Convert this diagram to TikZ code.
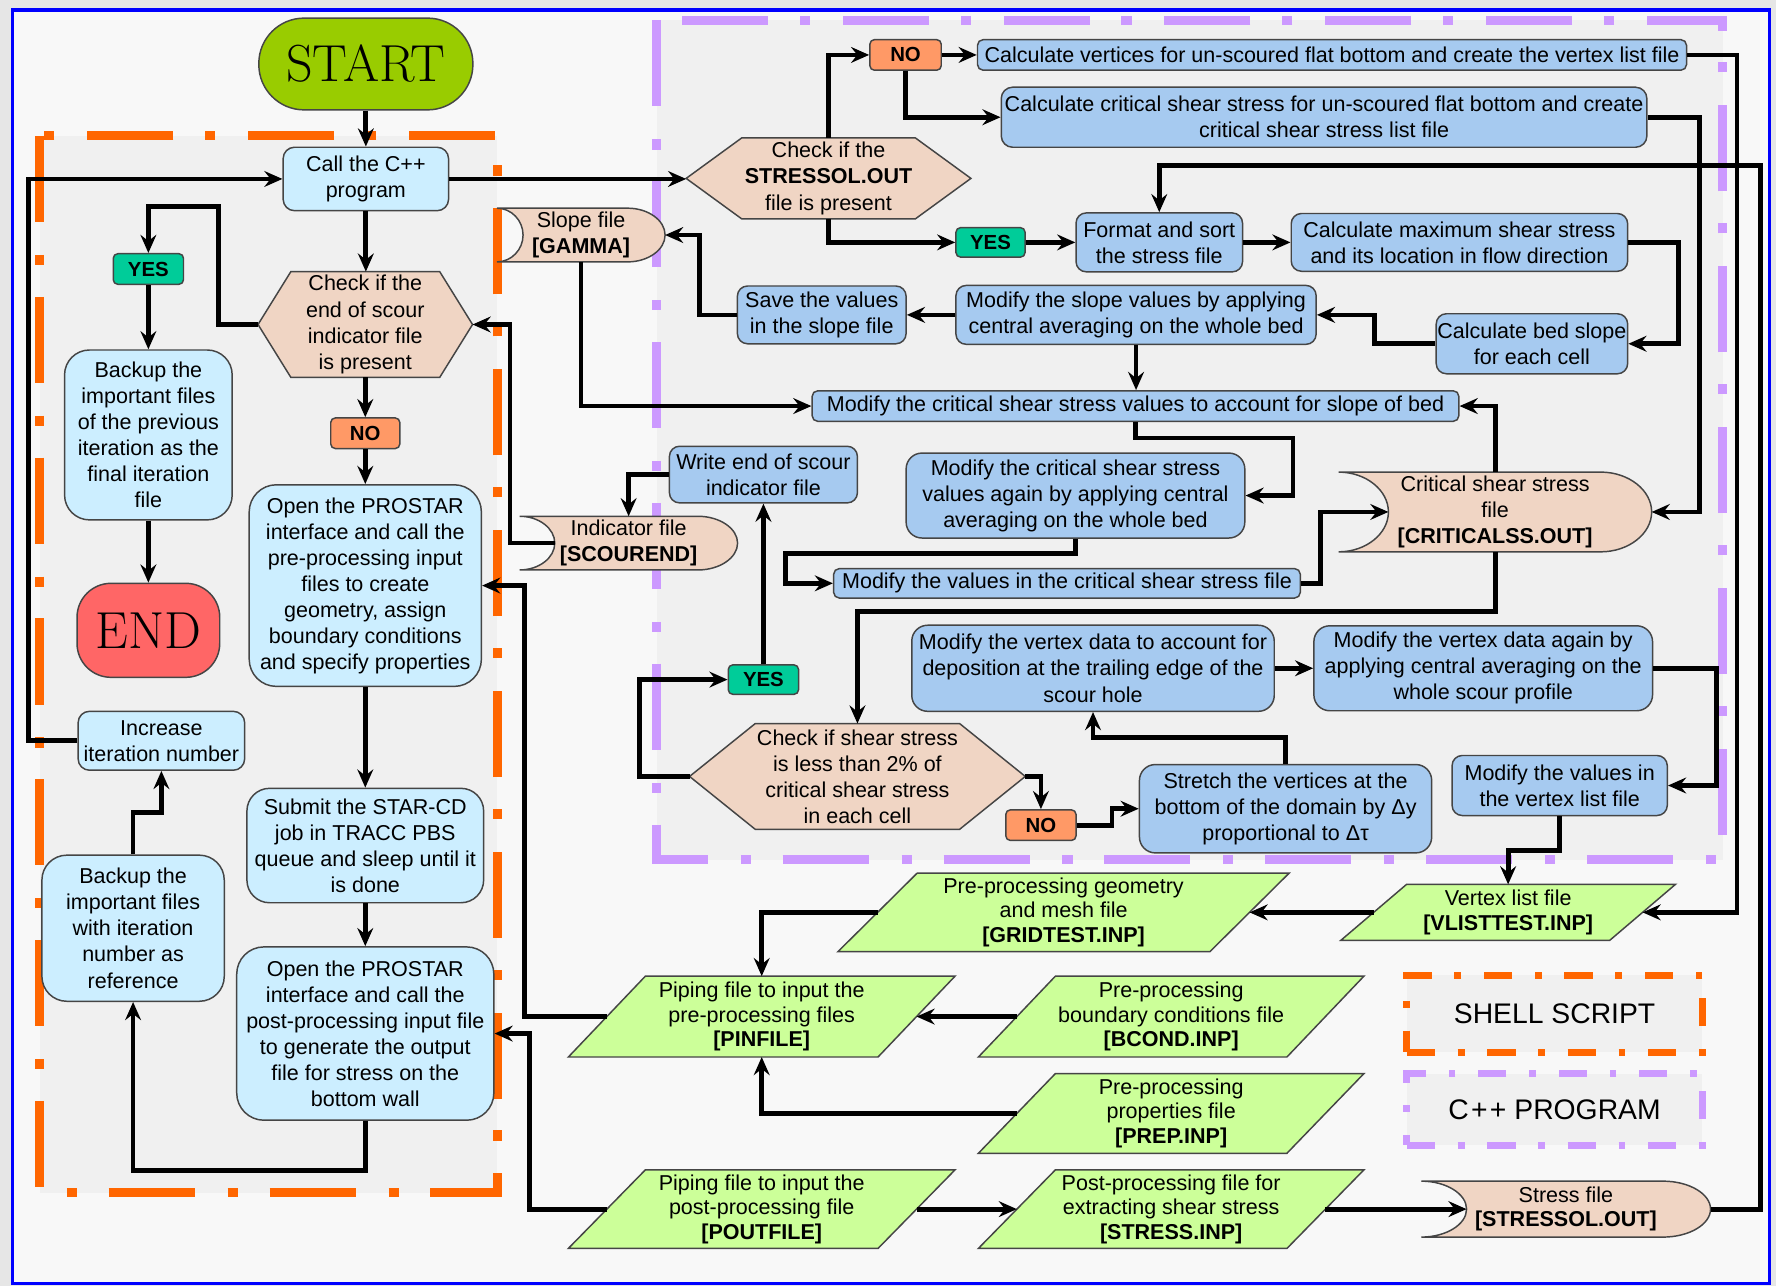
\documentclass[tikz,border=0pt]{standalone}
\usepackage{fontspec}
\newfontfamily\sansx{Liberation Sans}
\usetikzlibrary{arrows.meta}
\pgfdeclarelayer{bottom}
\pgfdeclarelayer{back}
\pgfsetlayers{bottom,back,main}

\definecolor{startgreen}{HTML}{99CC00}
\definecolor{endred}{HTML}{FF6666}
\definecolor{shellblue}{HTML}{CCEEFF}
\definecolor{cppblue}{HTML}{A6CAF0}
\definecolor{peach}{HTML}{F0D5C4}
\definecolor{yesgreen}{HTML}{00CC99}
\definecolor{noorange}{HTML}{FF9966}
\definecolor{filegreen}{HTML}{CCFF99}
\definecolor{shellorange}{HTML}{FF6600}
\definecolor{cppviolet}{HTML}{CC99FF}
\definecolor{bordergray}{HTML}{454545}
\definecolor{pagebg}{HTML}{F8F8F8}
\definecolor{regionbg}{HTML}{F0F0F0}
\definecolor{outerbg}{HTML}{E6E6E6}
\definecolor{framebl}{HTML}{0000FF}

\newcommand\bodyfont{\sansx\fontsize{19}{23}\selectfont}
\newcommand\filefont{\sansx\fontsize{19}{21.5}\selectfont}

\newcommand\drawhex[2]{\filldraw[hexfill] (#1.west) -- ([xshift=#2pt]#1.north west) -- ([xshift=-#2pt]#1.north east) -- (#1.east) -- ([xshift=-#2pt]#1.south east) -- ([xshift=#2pt]#1.south west) -- cycle;}
\newcommand\drawstore[4]{\filldraw[storefill] (#1.north west) .. controls ([xshift=0.55*#2pt]#1.north west) and ([xshift=#2pt,yshift=#4pt]#1.west) .. ([xshift=#2pt]#1.west) .. controls ([xshift=#2pt,yshift=-#4pt]#1.west) and ([xshift=0.55*#2pt]#1.south west) .. (#1.south west) -- ([xshift=-#3pt]#1.south east) .. controls ([xshift=-0.45*#3pt]#1.south east) and ([yshift=-#4pt]#1.east) .. (#1.east) .. controls ([yshift=#4pt]#1.east) and ([xshift=-0.45*#3pt]#1.north east) .. ([xshift=-#3pt]#1.north east) -- cycle;}
\newcommand\drawpara[2]{\filldraw[parafill] ([xshift=#2pt]#1.north west) -- (#1.north east) -- ([xshift=-#2pt]#1.south east) -- (#1.south west) -- cycle;}

\tikzset{
  base/.style={inner sep=0pt, align=center, font=\bodyfont, text=black},
  filetxt/.style={base, font=\filefont},
  sbox/.style={base, draw=bordergray, line width=1.3pt, fill=shellblue, rounded corners=18pt},
  cbox/.style={base, draw=bordergray, line width=1.3pt, fill=cppblue, rounded corners=9pt},
  yesbox/.style={base, draw=bordergray, line width=1.3pt, fill=yesgreen, rounded corners=4pt, font=\sansx\bfseries\fontsize{18}{20}\selectfont},
  nobox/.style={base, draw=bordergray, line width=1.3pt, fill=noorange, rounded corners=4pt, font=\sansx\bfseries\fontsize{18}{20}\selectfont},
  termbox/.style={inner sep=0pt, draw=bordergray, line width=1.3pt, font=\fontsize{46}{50}\selectfont},
  hexfill/.style={fill=peach, draw=bordergray, line width=1.3pt},
  storefill/.style={fill=peach, draw=bordergray, line width=1.3pt},
  parafill/.style={fill=filegreen, draw=bordergray, line width=1.3pt},
  arr/.style={draw=black, line width=4.2pt, -{Stealth[length=16pt,width=14pt,inset=5.5pt]}},
  shellregion/.style={draw=shellorange, line width=8pt, dash pattern=on 76pt off 29pt on 9pt off 28pt, fill=regionbg},
  cppregion/.style={draw=cppviolet, line width=8pt, dash pattern=on 76pt off 29pt on 9pt off 28pt, fill=regionbg},
  legendtxt/.style={base, font=\sansx\fontsize{25}{28}\selectfont, fill=regionbg, line width=6pt, dash pattern=on 25pt off 20pt on 6pt off 20pt},
}

\begin{document}
\begin{tikzpicture}[x=1pt,y=-1pt]
\useasboundingbox (0,0) rectangle (1568,1135);

% ---------- shell script nodes ----------
\node[termbox, fill=startgreen, rounded corners=40pt, minimum width=189, minimum height=81] (start) at (323,56.5) {START};
\node[sbox, rounded corners=10pt, minimum width=146, minimum height=56] (call) at (323,158) {Call the C++\\program};
\node[base, minimum width=189, minimum height=93] (hexE) at (322.5,286.5) {Check if the\\end of scour\\indicator file\\is present};
\node[yesbox, minimum width=62, minimum height=27] (yes1) at (131,237.5) {YES};
\node[sbox, rounded corners=22pt, minimum width=148, minimum height=150] (bk1) at (131,384) {Backup the\\important files\\of the previous\\iteration as the\\final iteration\\file};
\node[termbox, fill=endred, rounded corners=30pt, minimum width=126, minimum height=83] (endn) at (131,556.5) {END};
\node[nobox, minimum width=61, minimum height=27] (no1) at (322.5,382.5) {NO};
\node[sbox, rounded corners=24pt, minimum width=205, minimum height=178] (op1) at (322.5,517) {Open the PROSTAR\\interface and call the\\pre-processing input\\files to create\\geometry, assign\\boundary conditions\\and specify properties};
\node[sbox, rounded corners=10pt, minimum width=147, minimum height=52] (inc) at (142.5,654) {Increase\\iteration number};
\node[sbox, rounded corners=20pt, minimum width=209, minimum height=101] (sub) at (322.5,746.5) {Submit the STAR-CD\\job in TRACC PBS\\queue and sleep until it\\is done};
\node[sbox, rounded corners=22pt, minimum width=161, minimum height=129] (bk2) at (117.5,819.5) {Backup the\\important files\\with iteration\\number as\\reference};
\node[sbox, rounded corners=24pt, minimum width=227, minimum height=153] (op2) at (322.5,912.5) {Open the PROSTAR\\interface and call the\\post-processing input file\\to generate the output\\file for stress on the\\bottom wall};

% ---------- C++ nodes ----------
\node[base, minimum width=251, minimum height=71] (hexS) at (731.5,157.5) {Check if the\\\textbf{STRESSOL.OUT}\\file is present};
\node[nobox, minimum width=63, minimum height=27] (no2) at (799.5,48.5) {NO};
\node[cbox, rounded corners=5pt, minimum width=626, minimum height=27] (cv) at (1176,48.5) {Calculate vertices for un-scoured flat bottom and create the vertex list file};
\node[cbox, rounded corners=10pt, minimum width=570, minimum height=53] (cc) at (1169,103.5) {Calculate critical shear stress for un-scoured flat bottom and create\\critical shear stress list file};
\node[yesbox, minimum width=61, minimum height=26] (yes2) at (874.5,214) {YES};
\node[cbox, minimum width=147, minimum height=52] (fmt) at (1023.5,214) {Format and sort\\the stress file};
\node[cbox, minimum width=297, minimum height=51] (cmax) at (1288.5,214) {Calculate maximum shear stress\\and its location in flow direction};
\node[base, minimum width=148, minimum height=47] (slope) at (513,207.5) {Slope file\\\textbf{[GAMMA]}};
\node[cbox, minimum width=149, minimum height=51] (save) at (725.5,278) {Save the values\\in the slope file};
\node[cbox, minimum width=318, minimum height=52] (ms) at (1003,278) {Modify the slope values by applying\\central averaging on the whole bed};
\node[cbox, minimum width=169, minimum height=53] (cbs) at (1352.5,303.5) {Calculate bed slope\\for each cell};
\node[cbox, rounded corners=5pt, minimum width=571, minimum height=27] (mcs) at (1002.5,358.5) {Modify the critical shear stress values to account for slope of bed};
\node[cbox, minimum width=166, minimum height=50] (wend) at (674,419) {Write end of scour\\indicator file};
\node[cbox, rounded corners=14pt, minimum width=299, minimum height=75] (mca) at (949.5,437.5) {Modify the critical shear stress\\values again by applying central\\averaging on the whole bed};
\node[base, minimum width=276, minimum height=70] (css) at (1320,452) {Critical shear stress\\file\\\textbf{[CRITICALSS.OUT]}};
\node[base, minimum width=192, minimum height=47] (ind) at (555,479.5) {Indicator file\\\textbf{[SCOUREND]}};
\node[cbox, rounded corners=5pt, minimum width=412, minimum height=26] (mvc) at (942,515) {Modify the values in the critical shear stress file};
\node[cbox, rounded corners=14pt, minimum width=320, minimum height=76] (mvd) at (965,590) {Modify the vertex data to account for\\deposition at the trailing edge of the\\scour hole};
\node[cbox, rounded corners=14pt, minimum width=299, minimum height=75] (mva) at (1309.5,590) {Modify the vertex data again by\\applying central averaging on the\\whole scour profile};
\node[yesbox, minimum width=62, minimum height=26] (yes3) at (674,600) {YES};
\node[base, minimum width=296, minimum height=93] (hexC) at (757,685.5) {Check if shear stress\\is less than 2\% of\\critical shear stress\\in each cell};
\node[nobox, minimum width=62, minimum height=27] (no3) at (919,728.5) {NO};
\node[cbox, rounded corners=14pt, minimum width=258, minimum height=78] (str) at (1135,714) {Stretch the vertices at the\\bottom of the domain by Δy\\proportional to Δτ};
\node[cbox, minimum width=190, minimum height=53] (mvl) at (1377,693.5) {Modify the values in\\the vertex list file};

% ---------- files ----------
\node[filetxt, minimum width=398, minimum height=69] (grid) at (939,805.5) {Pre-processing geometry\\and mesh file\\\textbf{[GRIDTEST.INP]}};
\node[filetxt, minimum width=295, minimum height=49] (vl) at (1331.5,805.5) {Vertex list file\\\textbf{[VLISTTEST.INP]}};
\node[filetxt, minimum width=341, minimum height=71] (pin) at (672.5,897.5) {Piping file to input the\\pre-processing files\\\textbf{[PINFILE]}};
\node[filetxt, minimum width=340, minimum height=71] (bc) at (1034,897.5) {Pre-processing\\boundary conditions file\\\textbf{[BCOND.INP]}};
\node[filetxt, minimum width=340, minimum height=70] (prep) at (1034,983) {Pre-processing\\properties file\\\textbf{[PREP.INP]}};
\node[filetxt, minimum width=341, minimum height=69] (pout) at (672.5,1067.5) {Piping file to input the\\post-processing file\\\textbf{[POUTFILE]}};
\node[filetxt, minimum width=340, minimum height=69] (sti) at (1034,1067.5) {Post-processing file for\\extracting shear stress\\\textbf{[STRESS.INP]}};
\node[filetxt, minimum width=255, minimum height=49] (sf) at (1382.5,1067.5) {Stress file\\\textbf{[STRESSOL.OUT]}};

% ---------- legend ----------
\node[legendtxt, draw=shellorange, minimum width=261, minimum height=68] (lg1) at (1372.5,895) {SHELL SCRIPT};
\node[legendtxt, draw=cppviolet, minimum width=261, minimum height=63] (lg2) at (1372.5,979.5) {C{\kern2pt}+{\kern2pt}+ PROGRAM};

% ---------- background layers ----------
\begin{pgfonlayer}{bottom}
  \fill[outerbg] (0,0) rectangle (1568,1135);
  \filldraw[fill=pagebg, draw=framebl, line width=3pt] (11,9) rectangle (1562,1133);
  \path[shellregion] (35,120) rectangle (439,1053);
  \path[cppregion] (580,18) rectangle (1521,759);
\end{pgfonlayer}
\begin{pgfonlayer}{back}
  \drawhex{hexE}{29}
  \drawhex{hexS}{49}
  \drawhex{hexC}{58}
  \drawstore{slope}{23}{33}{12.9}
  \drawstore{css}{44}{45}{19.2}
  \drawstore{ind}{31}{35}{12.9}
  \drawstore{sf}{40}{42}{13.5}
  \drawpara{grid}{70}
  \drawpara{vl}{58}
  \drawpara{pin}{68}
  \drawpara{bc}{68}
  \drawpara{prep}{68}
  \drawpara{pout}{68}
  \drawpara{sti}{68}
\end{pgfonlayer}

% ---------- connectors ----------
\draw[arr] (start.south) -- (start.south |- call.north);
\draw[arr] (call.south) -- (call.south |- hexE.north);
\draw[arr] (hexE.west) -| (193,182) -| (yes1.north);
\draw[arr] (yes1.south) -- (yes1.south |- bk1.north);
\draw[arr] (bk1.south) -- (bk1.south |- endn.north);
\draw[arr] (hexE.south) -- (hexE.south |- no1.north);
\draw[arr] (no1.south) -- (no1.south |- op1.north);
\draw[arr] (op1.south) -- (op1.south |- sub.north);
\draw[arr] (sub.south) -- (sub.south |- op2.north);
\draw[arr] (op2.south) -- ++(0,44) -| (bk2.south);
\draw[arr] (bk2.north) -- ++(0,-37) -| (inc.south);
\draw[arr] (inc.west) -| (25,158) -- (call.west);
\draw[arr] (call.east) -- (call.east -| hexS.west);
\draw[arr] (hexS.north) |- (no2.west);
\draw[arr] (no2.east) -- (cv.west);
\draw[arr] (no2.south) |- (cc.west);
\draw[arr] (hexS.south) |- (yes2.west);
\draw[arr] (yes2.east) -- (yes2.east -| fmt.west);
\draw[arr] (fmt.east) -- (fmt.east -| cmax.west);
\draw[arr] (cmax.east) -- ++(44,0) |- (cbs.east);
\draw[arr] (cbs.west) -- ++(-54,0) |- (ms.east);
\draw[arr] (ms.west) -- (ms.west -| save.east);
\draw[arr] (save.west) -- ++(-33,0) |- (slope.east);
\draw[arr] (ms.south) -- (ms.south |- mcs.north);
\draw[arr] (slope.south) |- (mcs.west);
\draw[arr] (mcs.south) -- ++(0,14) -| ([xshift=42pt]mca.east) -- (mca.east);
\draw[arr] (mca.south) -- ++(0,13) -| ([xshift=-42pt]mvc.west) -- (mvc.west);
\draw[arr] (mvc.east) -- ++(17,0) |- ([xshift=44pt]css.west);
\draw[arr] (css.north) |- (mcs.east);
\draw[arr] (cc.east) -- ++(46,0) |- (css.east);
\draw[arr] (css.south) -- ++(0,53) -| (hexC.north);
\draw[arr] (hexC.west) -- ++(-44,0) |- (yes3.west);
\draw[arr] (yes3.north) -- (yes3.north |- wend.south);
\draw[arr] (wend.west) -| (ind.north);
\draw[arr] ([xshift=31pt]ind.west) -| ([xshift=33pt]hexE.east) -- (hexE.east);
\draw[arr] (hexC.east) -| (no3.north);
\draw[arr] (no3.east) -- ++(31,0) |- (str.west);
\draw[arr] (str.north) -- ++(0,-23) -| (mvd.south);
\draw[arr] (mvd.east) -- (mvd.east -| mva.west);
\draw[arr] (mva.east) -- ++(56,0) |- (mvl.east);
\draw[arr] (mvl.south) -- ++(0,30) -| (vl.north);
\draw[arr] (cv.east) -- ++(44,0) |- ([xshift=-29pt]vl.east);
\draw[arr] ([xshift=29pt]vl.west) -- ([xshift=-35pt]grid.east);
\draw[arr] ([xshift=35pt]grid.west) -| (pin.north);
\draw[arr] ([xshift=34pt]bc.west) -- ([xshift=-34pt]pin.east);
\draw[arr] ([xshift=34pt]prep.west) -| (pin.south);
\draw[arr] ([xshift=34pt]pin.west) -- ++(-73,0) |- (op1.east);
\draw[arr] ([xshift=34pt]pout.west) -- ++(-68,0) |- (op2.east);
\draw[arr] ([xshift=-34pt]pout.east) -- ([xshift=34pt]sti.west);
\draw[arr] ([xshift=-34pt]sti.east) -- ([xshift=40pt]sf.west);
\draw[arr] (sf.east) -| (1554,146) -| (fmt.north);
\end{tikzpicture}
\end{document}
